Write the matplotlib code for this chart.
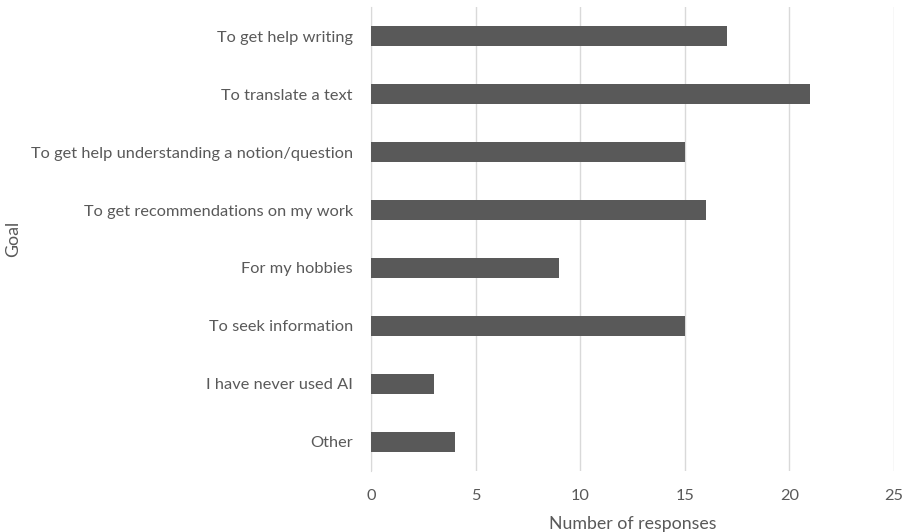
import matplotlib
matplotlib.use("Agg")
import matplotlib.pyplot as plt

categories = ["To get help writing", "To translate a text",
              "To get help understanding a notion/question",
              "To get recommendations on my work", "For my hobbies",
              "To seek information", "I have never used AI", "Other"]
values = [17, 21, 15, 16, 9, 15, 3, 4]
xticks = [0, 5, 10, 15, 20, 25]

plt.rcParams['font.family'] = ['Lato', 'DejaVu Sans']
txt = '#595959'

fig = plt.figure(figsize=(9.10, 5.32), dpi=100)
ax = fig.add_axes([0.4077, 0.1147, 0.5747, 0.8721])
y = list(range(len(categories)))
ax.barh(y, values, height=0.35, color='#595959', zorder=3)
ax.set_ylim(len(categories) - 0.5, -0.5)
ax.set_xlim(0, 25)
ax.set_xticks(xticks)
ax.set_xticklabels([str(t) for t in xticks])
ax.set_yticks(y)
ax.set_yticklabels(categories)
ax.tick_params(axis='both', length=0, colors=txt, labelsize=11.8)
ax.tick_params(axis='x', pad=13)
ax.tick_params(axis='y', pad=13)
ax.grid(axis='x', color='#d9d9d9', linewidth=1, zorder=0)
for s in ['top', 'right', 'bottom']:
    ax.spines[s].set_visible(False)
ax.spines['left'].set_color('#d9d9d9')
ax.set_xlabel('Number of responses', color=txt, fontsize=12.8, labelpad=9)
ax.set_ylabel('Goal', color=txt, fontsize=12.8)
ax.yaxis.set_label_coords((21 - 371) / 523.0, 0.5)
fig.savefig('out.png', dpi=100, facecolor='white')
